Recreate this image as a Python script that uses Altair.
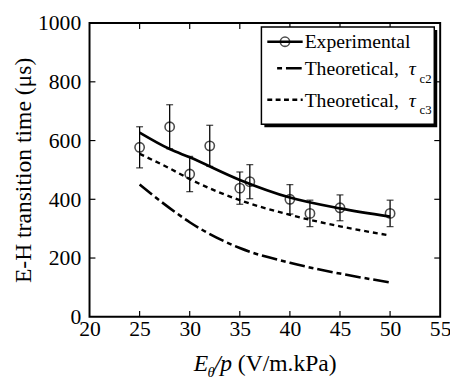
import altair as alt
import pandas as pd

# ---- data ----
exp_x = [25, 28, 30, 32, 35, 36, 40, 42, 45, 50]
exp_y = [577, 647, 486, 582, 438, 460, 400, 352, 371, 352]
exp_err = [70, 75, 60, 70, 55, 58, 50, 45, 44, 45]

fit_x = [25, 28, 30, 35, 40, 45, 50]
fit_exp = [627, 571, 543, 466, 406, 369, 341]
fit_tc2 = [450, 370, 322, 234, 184, 147, 117]
fit_tc3 = [555, 505, 469, 397, 347, 308, 277]

x_ticks = [20, 25, 30, 35, 40, 45, 50, 55]
y_ticks = [0, 200, 400, 600, 800, 1000]

W, H = 357, 299
FONT = "Liberation Serif, serif"

exp_df = pd.DataFrame({"x": exp_x, "y": exp_y,
                       "lo": [a - b for a, b in zip(exp_y, exp_err)],
                       "hi": [a + b for a, b in zip(exp_y, exp_err)]})
fit_df = pd.DataFrame({"x": fit_x, "exp": fit_exp, "tc2": fit_tc2, "tc3": fit_tc3})

xs = alt.Scale(domain=[20, 55], nice=False, zero=False)
ys = alt.Scale(domain=[0, 1000], nice=False)
xaxis = alt.Axis(values=x_ticks, title=None, format="d", labelFont=FONT, labelFontSize=22,
                 labelColor="black", labelPadding=2, labelFlush=False,
                 labelOverlap=False, ticks=False, domain=False, grid=False)
yaxis = alt.Axis(values=y_ticks, title="E-H transition time (μs)", format="d", labelFont=FONT,
                 labelFontSize=22, labelColor="black", labelPadding=9,
                 labelFlush=False, labelOverlap=False, ticks=False, domain=False,
                 grid=False, titleFont=FONT, titleFontSize=24,
                 titleFontWeight="normal", titleColor="black", titlePadding=2)

X = lambda f: alt.X(f"{f}:Q", scale=xs, axis=xaxis)
Y = lambda f: alt.Y(f"{f}:Q", scale=ys, axis=yaxis)

fit = alt.Chart(fit_df)
line_exp = fit.mark_line(color="black", strokeWidth=2.7, interpolate="monotone").encode(x=X("x"), y=Y("exp"))
line_tc3 = fit.mark_line(color="black", strokeWidth=2.4, strokeDash=[5, 4], interpolate="monotone").encode(x=X("x"), y=Y("tc3"))
line_tc2 = fit.mark_line(color="black", strokeWidth=2.6, strokeDash=[16, 4, 5, 4], interpolate="monotone").encode(x=X("x"), y=Y("tc2"))

ebase = alt.Chart(exp_df)
err = ebase.mark_rule(color="black", strokeWidth=1.3).encode(x=X("x"), y=Y("lo"), y2="hi:Q")
cap_lo = ebase.mark_tick(color="black", thickness=1.3, size=7, orient="horizontal").encode(x=X("x"), y=Y("lo"))
cap_hi = ebase.mark_tick(color="black", thickness=1.3, size=7, orient="horizontal").encode(x=X("x"), y=Y("hi"))
pts = ebase.mark_point(shape="circle", filled=False, size=90, color="black", strokeWidth=1.6).encode(x=X("x"), y=Y("y"))

# inward ticks on all four sides
xt_df = pd.DataFrame({"x": x_ticks[1:-1]})
yt_df = pd.DataFrame({"y": y_ticks[1:-1]})
TL = 6
tick_b = alt.Chart(xt_df).mark_rule(color="black", strokeWidth=1.2).encode(x=X("x"), y=alt.value(H), y2=alt.value(H - TL))
tick_t = alt.Chart(xt_df).mark_rule(color="black", strokeWidth=1.2).encode(x=X("x"), y=alt.value(0), y2=alt.value(TL))
tick_l = alt.Chart(yt_df).mark_rule(color="black", strokeWidth=1.2).encode(y=Y("y"), x=alt.value(0), x2=alt.value(TL))
tick_r = alt.Chart(yt_df).mark_rule(color="black", strokeWidth=1.2).encode(y=Y("y"), x=alt.value(W), x2=alt.value(W - TL))

one = pd.DataFrame({"a": [0]})


def txt(t, x, y, size, italic=False):
    kw = dict(text=t, font=FONT, fontSize=size, align="left", baseline="alphabetic", color="black")
    if italic:
        kw["fontStyle"] = "italic"
    return alt.Chart(one).mark_text(**kw).encode(x=alt.value(x), y=alt.value(y))


# legend box with drop shadow
LB = dict(l=175, t=4, r=351, b=103)
shadow = alt.Chart(one).mark_rect(color="black").encode(
    x=alt.value(LB["l"] + 3), x2=alt.value(LB["r"] + 3), y=alt.value(LB["t"] + 3), y2=alt.value(LB["b"] + 3))
box = alt.Chart(one).mark_rect(fill="white", stroke="black", strokeWidth=1.5).encode(
    x=alt.value(LB["l"]), x2=alt.value(LB["r"]), y=alt.value(LB["t"]), y2=alt.value(LB["b"]))

leg_l1 = alt.Chart(one).mark_rule(color="black", strokeWidth=2.7).encode(x=alt.value(181), x2=alt.value(217), y=alt.value(19))
leg_p1 = alt.Chart(one).mark_point(shape="circle", filled=False, size=90, color="black", strokeWidth=1.6).encode(x=alt.value(199), y=alt.value(19))
leg_l2 = alt.Chart(one).mark_rule(color="black", strokeWidth=2.6, strokeDash=[16, 4, 5, 4], strokeDashOffset=20).encode(x=alt.value(191), x2=alt.value(217), y=alt.value(46))
leg_l3 = alt.Chart(one).mark_rule(color="black", strokeWidth=2.4, strokeDash=[5, 3.5]).encode(x=alt.value(181), x2=alt.value(217), y=alt.value(78))

leg_t1 = txt("Experimental", 219, 25, 20)
leg_t2 = txt("Theoretical,", 219, 53, 20)
leg_t2g = txt("τ", 325, 53, 20, True)
leg_t2s = txt("c2", 336, 61, 13)
leg_t3 = txt("Theoretical,", 219, 85, 20)
leg_t3g = txt("τ", 325, 85, 20, True)
leg_t3s = txt("c3", 336, 93, 13)

# x-axis title with italic/subscript pieces
xt1 = txt("E", 106, 354, 24, True)
xt2 = txt("θ", 120, 360, 15, True)
xt3 = txt("/", 127, 354, 24, True)
xt4 = txt("p", 133, 354, 24, True)
xt5 = txt("(V/m.kPa)", 151, 354, 24)

chart = alt.layer(
    line_tc2, line_tc3, line_exp, err, cap_lo, cap_hi, pts,
    tick_b, tick_t, tick_l, tick_r,
    shadow, box, leg_l1, leg_p1, leg_l2, leg_l3,
    leg_t1, leg_t2, leg_t2g, leg_t2s, leg_t3, leg_t3g, leg_t3s,
    xt1, xt2, xt3, xt4, xt5,
).properties(
    width=W, height=H,
    padding={"left": 83, "top": 12, "right": 10, "bottom": 60},
    autosize=alt.AutoSizeParams(type="none"),
    background="white",
).configure(font=FONT).configure_view(stroke="black", strokeWidth=2)

chart.save("out.html", embed_options={"renderer": "svg", "actions": False})
